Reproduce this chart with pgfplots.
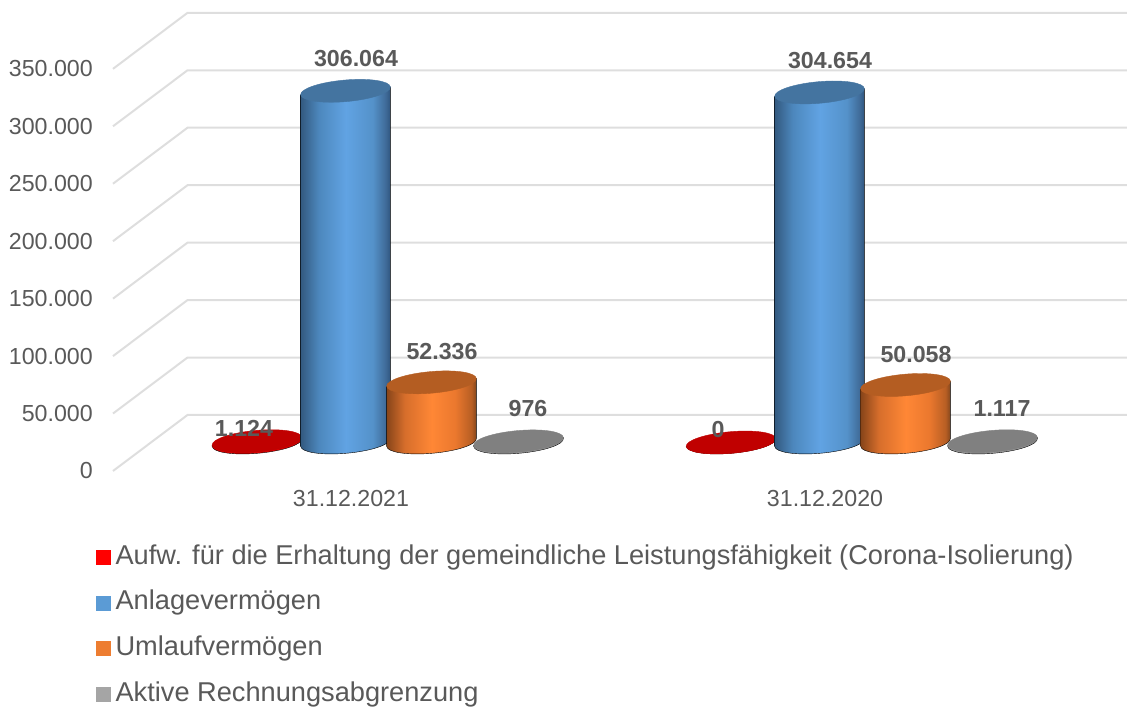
\documentclass[border=0pt]{standalone}
\usepackage{pgfplots}
\usepackage{fontspec}
\pgfplotsset{compat=1.18}
\setmainfont{Liberation Sans}
\definecolor{txt}{HTML}{595959}
\definecolor{gridc}{HTML}{DEDEDE}
\definecolor{topblue}{RGB}{68,116,160}
\definecolor{toporange}{RGB}{180,93,34}
\definecolor{topred}{RGB}{192,0,0}
\definecolor{topgray}{RGB}{128,128,128}
\definecolor{legblue}{HTML}{5B9BD5}
\definecolor{legorange}{HTML}{ED7D31}
\definecolor{leggray}{HTML}{A5A5A5}
\pgfdeclarehorizontalshading{blueshade}{100bp}{rgb(0bp)=(0.20,0.35,0.50); rgb(25bp)=(0.20,0.35,0.50); rgb(35bp)=(0.30,0.53,0.74); rgb(50bp)=(0.38,0.64,0.89); rgb(65bp)=(0.33,0.57,0.79); rgb(72bp)=(0.25,0.42,0.60); rgb(75bp)=(0.18,0.33,0.49); rgb(100bp)=(0.18,0.33,0.49)}
\pgfdeclarehorizontalshading{orangeshade}{100bp}{rgb(0bp)=(0.53,0.27,0.10); rgb(25bp)=(0.53,0.27,0.10); rgb(35bp)=(0.84,0.43,0.17); rgb(50bp)=(1.00,0.53,0.21); rgb(63bp)=(0.92,0.47,0.18); rgb(72bp)=(0.72,0.37,0.14); rgb(75bp)=(0.50,0.27,0.11); rgb(100bp)=(0.50,0.27,0.11)}
\pgfdeclarehorizontalshading{redshade}{100bp}{rgb(0bp)=(0.90,0,0); rgb(100bp)=(0.90,0,0)}
\pgfdeclarehorizontalshading{grayshade}{100bp}{rgb(0bp)=(0.62,0.62,0.62); rgb(100bp)=(0.62,0.62,0.62)}
\newcommand\cyl[3]{%
  \begingroup\pgfkeys{/pgf/fpu,/pgf/fpu/output format=fixed}\pgfmathparse{\val*0.001149}\global\let\hh\pgfmathresult\endgroup
  \pgfscope
  \pgftransformshift{\pgfqpoint{#3pt}{28.5pt}}%
  \begin{scope}[x=1pt,y=1pt]
    \shade[shading=#1] (-44.83,-3.92) -- (-44.83,{-3.92-\hh})
      .. controls (-44.31,{-9.86-\hh}) and (-23.82,{-12.925-\hh}) .. (0.94,{-10.76-\hh})
      .. controls (25.70,{-8.595-\hh}) and (45.35,{-2.02-\hh}) .. (44.83,{3.92-\hh})
      -- (44.83,3.92) -- cycle;
    \fill[#2] (-44.83,-3.92)
      .. controls (-44.31,-9.86) and (-23.82,-12.925) .. (0.94,-10.76)
      .. controls (25.70,-8.595) and (45.35,-2.02) .. (44.83,3.92)
      .. controls (44.31,9.86) and (23.82,12.925) .. (-0.94,10.76)
      .. controls (-25.70,8.595) and (-45.35,2.02) .. (-44.83,-3.92) -- cycle;
  \end{scope}
  \endpgfscope}
\pgfdeclareplotmark{cylred}{\cyl{redshade}{topred}{-94}}
\pgfdeclareplotmark{cylblue}{\cyl{blueshade}{topblue}{-5.5}}
\pgfdeclareplotmark{cylorange}{\cyl{orangeshade}{toporange}{80.5}}
\pgfdeclareplotmark{cylgray}{\cyl{grayshade}{topgray}{167.5}}
\newcommand\lab{\fontsize{23.2}{27}\selectfont}
\pgfplotsset{cylplot/.style n args={3}{only marks,scatter,scatter src=y,mark=#1,
    forget plot,
    visualization depends on={value \thisrow{v}\as\val},
    nodes near coords,
    every node near coord/.append style={anchor=center,inner sep=0pt,xshift=#2pt,yshift=#3pt,font=\lab\bfseries,text=txt}}}
\begin{document}
\begin{tikzpicture}[x=1pt,y=1pt]
\path[use as bounding box] (0,0) rectangle (1127,708);
\begin{axis}[
  at={(113pt,237pt)},anchor=south west,
  scale only axis,width=1014pt,height=466pt,
  xmin=-0.50211,xmax=1.63713,
  ymin=0,ymax=405570,
  clip=false,
  axis line style={draw=none},
  major tick length=0pt,
  tick style={draw=none},
  ytick={0,50000,100000,150000,200000,250000,300000,350000},
  xtick={0,1},
  xticklabels={31.12.2021,31.12.2020},
  scaled y ticks=false,
  /pgf/number format/assume math mode=true,
  /pgf/number format/.cd,fixed,precision=0,1000 sep={.},
  /pgfplots/.cd,
  yticklabel style={anchor=east,inner sep=0pt,xshift=-20pt,font=\lab,text=txt},
  xticklabel style={anchor=center,inner sep=0pt,yshift=-28pt,font=\lab,text=txt},
  legend style={at={(-17pt,-73pt)},anchor=north west,draw=none,fill=none,
    inner sep=0pt,row sep=19.67pt,font=\fontsize{27.2}{32}\selectfont,text=txt,
    nodes={inner sep=0pt,text height=20pt,text depth=6pt},
    /tikz/column 1/.style={column sep=5pt}},
  legend cell align=left,
]
\pgfplotsinvokeforeach{0,50000,100000,150000,200000,250000,300000,350000}{
  \draw[gridc,line width=2pt] (axis cs:-0.50211,#1) -- ++(74.5pt,56pt) -- ++(939.5pt,0pt);
}
\addplot[cylplot={cylred}{-107}{41.5}] table {
x v
0 1124
1 0
};
\addplot[cylplot={cylblue}{5}{60.4}] table {
x v
0 306064
1 304654
};
\addplot[cylplot={cylorange}{91}{59}] table {
x v
0 52336
1 50058
};
\addplot[cylplot={cylgray}{177}{61}] table {
x v
0 976
1 1117
};
\addlegendimage{legend image code/.code={\fill[red] (0pt,-7pt) rectangle (14pt,7pt);}}
\addlegendentry{Aufw. für die Erhaltung der gemeindliche Leistungsfähigkeit (Corona-Isolierung)}
\addlegendimage{legend image code/.code={\fill[legblue] (0pt,-7pt) rectangle (14pt,7pt);}}
\addlegendentry{Anlagevermögen}
\addlegendimage{legend image code/.code={\fill[legorange] (0pt,-7pt) rectangle (14pt,7pt);}}
\addlegendentry{Umlaufvermögen}
\addlegendimage{legend image code/.code={\fill[leggray] (0pt,-7pt) rectangle (14pt,7pt);}}
\addlegendentry{Aktive Rechnungsabgrenzung}
\end{axis}
\end{tikzpicture}
\end{document}
